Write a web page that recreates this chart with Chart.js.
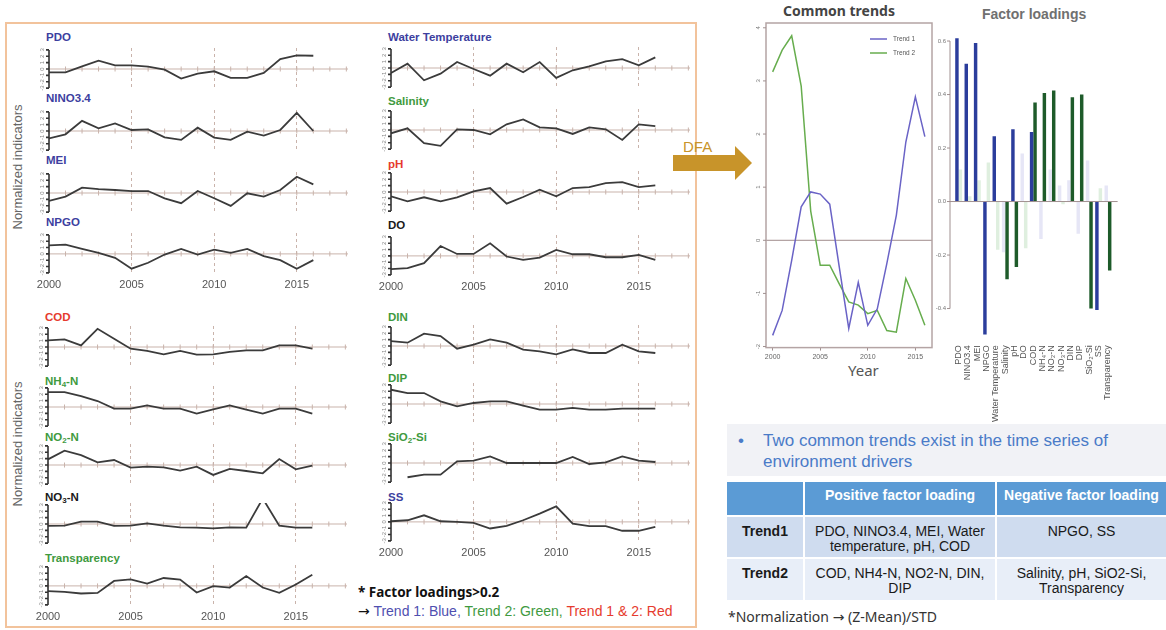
<!DOCTYPE html>
<html><head><meta charset="utf-8">
<script src="https://cdn.jsdelivr.net/npm/chart.js@4.4.1/dist/chart.umd.min.js"></script>
<style>
body{margin:0;width:1166px;height:630px;position:relative;background:#fff;overflow:hidden;font-family:"Liberation Sans",Arial,sans-serif;}
.abs{position:absolute;}
.pt{position:absolute;font-weight:bold;font-size:11.5px;line-height:12px;transform:translateY(-50%);white-space:nowrap;}
.pt sub{font-size:8px;vertical-align:-2px;line-height:0;}
.rot{position:absolute;transform:translate(-50%,-50%) rotate(-90deg);white-space:nowrap;font-size:13px;color:#666;}
.cell{position:absolute;box-sizing:border-box;text-align:center;font-size:14px;line-height:15px;color:#1a1a1a;}
.arr{font-family:"DejaVu Sans";}
</style></head><body>
<div class="abs" style="left:5px;top:22px;width:688px;height:602px;border:2px solid #f2c39c;"></div>
<div class="rot" style="left:17px;top:167px;">Normalized indicators</div>
<div class="rot" style="left:17px;top:444px;">Normalized indicators</div>
<div class="abs" style="left:358px;top:583px;font-family:'Noto Sans';font-weight:bold;font-size:13.5px;line-height:18px;color:#111;">* Factor loadings&gt;0.2</div>
<div class="abs" style="left:358px;top:602px;font-size:14px;line-height:18px;color:#111;white-space:nowrap;"><span class="arr">&rarr;</span> <span style="color:#4f4fb0">Trend 1: Blue,</span> <span style="color:#3f9a3f">Trend 2: Green,</span> <span style="color:#e63b2e">Trend 1 &amp; 2: Red</span></div>

<div class="abs" style="left:683px;top:138px;font-size:15px;line-height:18px;color:#c8942a;">DFA</div>
<svg class="abs" style="left:670px;top:140px;" width="90" height="50"><polygon points="3,15 65,15 65,6 82,23 65,40 65,31 3,31" fill="#c8942a"/></svg>

<div class="abs" style="left:783px;top:2px;font-family:'Noto Sans';font-weight:bold;font-size:14px;line-height:18px;color:#444;">Common trends</div>
<div class="abs" style="left:982px;top:5px;font-weight:bold;font-size:14px;line-height:18px;color:#707070;">Factor loadings</div>
<div class="abs" style="left:848px;top:360px;font-family:'Noto Sans';font-size:15px;line-height:20px;color:#555;">Year</div>

<div class="abs" style="left:727px;top:424px;width:439px;height:52px;background:#f1f2f6;"></div>
<div class="abs" style="left:738px;top:430px;font-size:17px;line-height:21px;color:#4a7bc8;">&bull;</div>
<div class="abs" style="left:763px;top:430px;font-size:17px;line-height:21px;color:#4a7bc8;white-space:nowrap;">Two common trends exist in the time series of<br>environment drivers</div>

<div class="cell" style="left:727px;top:482px;width:76px;height:33px;background:#5b9bd5;"></div>
<div class="cell" style="left:805px;top:482px;width:190px;height:33px;background:#5b9bd5;color:#fff;font-weight:bold;padding-top:6px;">Positive factor loading</div>
<div class="cell" style="left:997px;top:482px;width:169px;height:33px;background:#5b9bd5;color:#fff;font-weight:bold;padding-top:6px;white-space:nowrap;">Negative factor loading</div>
<div class="cell" style="left:727px;top:517px;width:76px;height:40px;background:#cfdcef;font-weight:bold;padding-top:7px;">Trend1</div>
<div class="cell" style="left:805px;top:517px;width:190px;height:40px;background:#cfdcef;padding-top:7px;">PDO, NINO3.4, MEI, Water<br>temperature, pH, COD</div>
<div class="cell" style="left:997px;top:517px;width:169px;height:40px;background:#cfdcef;padding-top:7px;">NPGO, SS</div>
<div class="cell" style="left:727px;top:559px;width:76px;height:41px;background:#e8eef8;font-weight:bold;padding-top:7px;">Trend2</div>
<div class="cell" style="left:805px;top:559px;width:190px;height:41px;background:#e8eef8;padding-top:7px;">COD, NH4-N, NO2-N, DIN,<br>DIP</div>
<div class="cell" style="left:997px;top:559px;width:169px;height:41px;background:#e8eef8;padding-top:7px;">Salinity, pH, SiO2-Si,<br>Transparency</div>
<div class="abs" style="left:728px;top:607px;font-family:'Noto Sans';font-size:14px;line-height:20px;color:#333;white-space:nowrap;">*Normalization <span class="arr">&rarr;</span> (Z-Mean)/STD</div>

<script>
// ---------------- DATA ----------------
const years = [2000,2001,2002,2003,2004,2005,2006,2007,2008,2009,2010,2011,2012,2013,2014,2015,2016];
const yearLabels = [2000,2005,2010,2015];
const panelTicks = [-3,-2,-1,0,1,2,3];

const pdo          = [-0.52,-0.52,0.42,1.3,0.57,0.57,0.36,-0.1,-1.5,-0.73,-0.36,-1.4,-1.4,-0.62,1.56,2.14,2.08];
const nino34       = [-1.15,-0.52,1.6,0.42,1.2,0.16,0.26,-1.0,-1.4,0.52,-1.04,-1.4,-0.1,-0.73,0.16,2.86,0];
const mei          = [-1.25,-0.57,0.83,0.62,0.47,0.31,0.31,-0.83,-1.6,0.31,-0.83,-2.03,-0.05,-0.57,0.47,2.55,1.35];
const npgo         = [1.35,1.46,0.78,0.16,-0.62,-2.34,-1.4,-0.1,0.78,-0.1,0.68,0.16,0.78,-0.36,-0.99,-2.34,-0.99];
const waterTemp    = [-0.78,0.68,-1.93,-0.89,0.94,-0.16,-1.2,0.68,-0.68,0.94,-1.56,-0.36,0.26,1.04,1.4,0.42,1.67];
const salinity     = [-0.52,0.26,-2.08,-2.5,0.1,0,-0.68,0.89,1.67,0.42,0.26,-0.62,0.42,0.1,-1.56,0.89,0.62];
const ph           = [-0.68,-1.46,-0.83,-1.46,-0.83,0.1,0.62,-1.82,-0.78,0.36,-0.68,0.62,0.78,1.4,1.56,0.78,1.04];
const dissolvedO2  = [-2.08,-1.93,-1.15,1.56,0.31,0.31,1.98,-0.1,-0.62,-0.26,0.94,0.26,0.26,-0.21,-0.21,0.16,-0.62];
const cod          = [1.04,1.2,0.26,2.86,1.3,-0.26,-0.62,-1.15,-0.62,-1.2,-1.15,-0.78,-0.52,-0.52,0.26,0.26,-0.26];
const nh4n         = [2.34,2.34,1.72,0.94,-0.26,-0.26,0.26,-0.26,-0.26,-1.04,-0.36,0.26,-0.42,-1.04,-0.26,-0.26,-1.04];
const no2n         = [0.89,2.24,1.56,0.42,0.78,-0.42,-0.26,-0.36,-0.89,-0.26,-1.56,-0.62,-0.94,-1.3,0.94,-0.68,-0.1];
const no3n         = [-0.31,-0.26,0.36,0.36,-0.31,-0.26,0.1,-0.26,-0.52,-0.57,-0.68,-0.52,-0.57,4.0,-0.26,-0.57,-0.57];
const transparency = [-0.83,-0.94,-1.2,-1.1,0.78,1.04,0.36,1.25,0.99,-1.04,-0.05,-0.26,1.56,-0.26,-1.1,0.21,1.77];
const din          = [0.78,0.52,1.93,1.56,-0.42,0.21,1.04,0.52,-0.57,-0.83,-1.3,-0.52,-1.1,-1.1,0.21,-0.83,-1.1];
const dip          = [2.24,1.72,1.72,0.42,-0.36,0.16,0.42,0.42,-0.26,-0.89,-0.89,-0.62,-0.89,-0.89,-0.73,-0.73,-0.73];
const sio2si       = [null,-2.24,-1.82,-1.82,0.26,0.36,1.04,0,0,0,0,0.94,-0.16,0.1,1.04,0.36,0.16];
const ss           = [0.1,0.26,1.04,0.1,0,-0.16,-1.04,-0.62,0.26,1.3,2.45,-0.26,-0.68,-0.68,-1.4,-1.4,-0.78];

const trend1 = [-1.79,-1.32,-0.38,0.63,0.91,0.87,0.68,-0.5,-1.66,-0.79,-1.6,-1.29,-0.44,0.47,1.85,2.7,1.95];
const trend2 = [3.17,3.58,3.85,2.9,0.55,-0.47,-0.47,-0.82,-1.16,-1.22,-1.38,-1.32,-1.7,-1.73,-0.72,-1.13,-1.6];
const trendTicks = [-2,-1,0,1,2,3,4];

const loadingLabels = ['PDO','NINO3.4','MEI','NPGO','Water Temperature','Salinity','pH','DO','COD','NH\u2084-N','NO\u2082-N','NO\u2083-N','DIN','DIP','SiO\u2082-Si','SS','Transparency'];
const loadTrend1 = [0.61,0.515,0.593,-0.497,0.244,-0.19,0.27,0.18,0.26,-0.14,0.12,0.06,0.08,-0.12,0.153,-0.405,0.06];
const loadTrend2 = [0.12,0.02,0.08,0.146,-0.18,-0.29,-0.245,-0.175,0.37,0.406,0.415,-0.01,0.39,0.40,-0.40,0.05,-0.258];
const loadTicks = [-0.4,-0.2,0,0.2,0.4,0.6];
const loadThreshold = 0.2;

// ---------------- STYLE / LAYOUT ----------------
const C_BLUE='#3d3f9f', C_GREEN='#3f9a3f', C_RED='#e63b2e', C_BLACK='#1a1a1a';
const panels = [
  {title:'PDO', vals:pdo, color:C_BLUE, ax:49, zy:69, ty:37, xlab:false},
  {title:'NINO3.4', vals:nino34, color:C_BLUE, ax:49, zy:131, ty:98, xlab:false},
  {title:'MEI', vals:mei, color:C_BLUE, ax:49, zy:193, ty:160, xlab:false},
  {title:'NPGO', vals:npgo, color:C_BLUE, ax:49, zy:254, ty:222, xlab:true},
  {title:'Water Temperature', vals:waterTemp, color:C_BLUE, ax:391, zy:68, ty:37, xlab:false},
  {title:'Salinity', vals:salinity, color:C_GREEN, ax:391, zy:130, ty:101, xlab:false},
  {title:'pH', vals:ph, color:C_RED, ax:391, zy:192, ty:164, xlab:false},
  {title:'DO', vals:dissolvedO2, color:C_BLACK, ax:391, zy:256, ty:225, xlab:true},
  {title:'COD', vals:cod, color:C_RED, ax:48, zy:347, ty:317, xlab:false},
  {title:'NH<sub>4</sub>-N', vals:nh4n, color:C_GREEN, ax:48, zy:407, ty:381, xlab:false},
  {title:'NO<sub>2</sub>-N', vals:no2n, color:C_GREEN, ax:48, zy:465, ty:437, xlab:false},
  {title:'NO<sub>3</sub>-N', vals:no3n, color:C_BLACK, ax:48, zy:524, ty:497, xlab:false},
  {title:'Transparency', vals:transparency, color:C_GREEN, ax:48, zy:586, ty:558, xlab:true},
  {title:'DIN', vals:din, color:C_GREEN, ax:391, zy:346, ty:317, xlab:false},
  {title:'DIP', vals:dip, color:C_GREEN, ax:391, zy:404, ty:378, xlab:false},
  {title:'SiO<sub>2</sub>-Si', vals:sio2si, color:C_GREEN, ax:391, zy:463, ty:437, xlab:false},
  {title:'SS', vals:ss, color:C_BLUE, ax:391, zy:522, ty:497, xlab:true}
];

Chart.defaults.font.family = '"Liberation Sans", Arial, sans-serif';
const yearFmt = v => String(v);

function build(cfgFn, W, H, T){
  const wrap = document.createElement('div'); wrap.className='abs'; document.body.appendChild(wrap);
  function make(w,h){
    const cv=document.createElement('canvas'); cv.width=w; cv.height=h; cv.style.width=w+'px'; cv.style.height=h+'px';
    wrap.appendChild(cv); return new Chart(cv, cfgFn());
  }
  let ch = make(W,H); let ca = ch.chartArea;
  const W2 = Math.round(W + (T.r-T.l) - (ca.right-ca.left));
  const H2 = Math.round(H + (T.b-T.t) - (ca.bottom-ca.top));
  ch.destroy(); wrap.innerHTML='';
  ch = make(W2,H2); ca = ch.chartArea;
  wrap.style.left=(T.l-ca.left)+'px'; wrap.style.top=(T.t-ca.top)+'px';
  return ch;
}
const base = {responsive:false, maintainAspectRatio:false, animation:false, devicePixelRatio:1, events:[]};

// ---- small panel decorations
const panelDeco = {
  id:'panelDeco',
  beforeDatasetsDraw(chart){
    const {ctx, chartArea:ca, scales:{x,y}} = chart;
    const y0=y.getPixelForValue(0);
    ctx.save(); ctx.strokeStyle='#c9b3ab'; ctx.lineWidth=1; ctx.beginPath();
    ctx.moveTo(ca.left,y0); ctx.lineTo(ca.right,y0);
    for(let yr=Math.ceil(x.min); yr<=x.max; yr++){const px=x.getPixelForValue(yr); ctx.moveTo(px,y0-2.5); ctx.lineTo(px,y0+2.5);}
    ctx.stroke(); ctx.restore();
  },
  afterDatasetsDraw(chart){
    const {ctx, chartArea:ca, scales:{y}} = chart;
    const ax=ca.left;
    ctx.save(); ctx.strokeStyle='#333'; ctx.lineWidth=1.6; ctx.beginPath();
    ctx.moveTo(ax,y.getPixelForValue(panelTicks[0])); ctx.lineTo(ax,y.getPixelForValue(panelTicks[panelTicks.length-1]));
    panelTicks.forEach(v=>{const py=y.getPixelForValue(v); ctx.moveTo(ax-3,py); ctx.lineTo(ax,py);});
    ctx.stroke();
    ctx.fillStyle='#888'; ctx.font='6px "Liberation Sans"'; ctx.textAlign='center'; ctx.textBaseline='middle';
    panelTicks.forEach(v=>{const py=y.getPixelForValue(v); ctx.save(); ctx.translate(ax-7,py); ctx.rotate(-Math.PI/2); ctx.fillText(String(v),0,0); ctx.restore();});
    ctx.restore();
  }
};

panels.forEach(p=>{
  const t=document.createElement('div'); t.className='pt'; t.style.left=(p.ax-3)+'px'; t.style.top=p.ty+'px'; t.style.color=p.color; t.innerHTML=p.title; document.body.appendChild(t);
  const cfg=()=>({
    type:'line',
    data:{datasets:[{data:years.map((yr,i)=>({x:yr,y:p.vals[i]})), borderColor:'#3b3b3b', borderWidth:1.8, pointRadius:0, tension:0, fill:false}]},
    plugins:[panelDeco],
    options:Object.assign({},base,{
      layout:{padding:{left:30,right:4,top:2,bottom:2}},
      plugins:{legend:{display:false},tooltip:{enabled:false}},
      scales:{
        x:{type:'linear', min:2000, max:2018.1,
           afterBuildTicks:s=>{s.ticks=yearLabels.map(v=>({value:v}));},
           border:{display:false, dash:[3,3]},
           grid:{drawTicks:false, lineWidth:1, color:c=>(c.tick&&c.tick.value>2000)?'#c9b3ab':'rgba(0,0,0,0)'},
           ticks:{display:p.xlab, autoSkip:false, maxRotation:0, font:{size:11}, color:'#555', padding:4, callback:yearFmt}},
        y:{display:false, min:-3.3, max:3.3}
      }
    })
  });
  build(cfg, 340, p.xlab?70:50, {l:p.ax, r:p.ax+298.7, t:p.zy-21.1, b:p.zy+21.1});
});

// ---- Common trends
const ctDeco = {
  id:'ctDeco',
  beforeDatasetsDraw(chart){
    const {ctx, chartArea:ca, scales:{y}} = chart;
    ctx.save(); ctx.strokeStyle='#a08c8c'; ctx.lineWidth=1;
    const y0=y.getPixelForValue(0); ctx.beginPath(); ctx.moveTo(ca.left,y0); ctx.lineTo(ca.right,y0); ctx.stroke(); ctx.restore();
  },
  afterDatasetsDraw(chart){
    const {ctx, chartArea:ca, scales:{y}, data} = chart;
    ctx.save(); ctx.strokeStyle='#b4a4a4'; ctx.lineWidth=1.5; ctx.strokeRect(ca.left,ca.top,ca.right-ca.left,ca.bottom-ca.top);
    ctx.strokeStyle='#a09090'; ctx.lineWidth=1; ctx.beginPath();
    trendTicks.forEach(v=>{const py=y.getPixelForValue(v); ctx.moveTo(ca.left-3,py); ctx.lineTo(ca.left,py);}); ctx.stroke();
    ctx.fillStyle='#777'; ctx.font='6px "Liberation Sans"'; ctx.textAlign='center'; ctx.textBaseline='middle';
    trendTicks.forEach(v=>{const py=y.getPixelForValue(v); ctx.save(); ctx.translate(ca.left-8,py); ctx.rotate(-Math.PI/2); ctx.fillText(String(v),0,0); ctx.restore();});
    // legend
    ctx.font='6.5px "Liberation Sans"'; ctx.textAlign='left'; ctx.fillStyle='#555';
    data.datasets.forEach((d,i)=>{const ly=ca.top+16+i*14; ctx.strokeStyle=d.borderColor; ctx.lineWidth=1.5; ctx.beginPath(); ctx.moveTo(ca.right-62,ly); ctx.lineTo(ca.right-45,ly); ctx.stroke(); ctx.fillText(d.label, ca.right-39, ly);});
    ctx.restore();
  }
};
build(()=>({
  type:'line',
  data:{datasets:[
    {label:'Trend 1', data:years.map((yr,i)=>({x:yr,y:trend1[i]})), borderColor:'#6a63c6', borderWidth:1.5, pointRadius:0, tension:0},
    {label:'Trend 2', data:years.map((yr,i)=>({x:yr,y:trend2[i]})), borderColor:'#67ad4e', borderWidth:1.5, pointRadius:0, tension:0}
  ]},
  plugins:[ctDeco],
  options:Object.assign({},base,{
    layout:{padding:{left:20,right:4,top:4,bottom:4}},
    plugins:{legend:{display:false},tooltip:{enabled:false}},
    scales:{
      x:{type:'linear', min:1999.3, max:2016.75, afterBuildTicks:s=>{s.ticks=yearLabels.map(v=>({value:v}));},
         border:{display:false}, grid:{drawOnChartArea:false, drawTicks:true, tickLength:3, color:'#a09090'},
         ticks:{font:{size:7}, color:'#666', padding:2, maxRotation:0, autoSkip:false, callback:yearFmt}},
      y:{display:false, min:-2.02, max:4.09}
    }
  })
}), 200, 360, {l:766, r:932, t:23, b:348});

// ---- Factor loadings
const flDeco = {
  id:'flDeco',
  afterDatasetsDraw(chart){
    const {ctx, chartArea:ca, scales:{y}} = chart;
    const ax=ca.left-4;
    ctx.save(); ctx.strokeStyle='#a09090'; ctx.lineWidth=1; ctx.beginPath();
    ctx.moveTo(ax,y.getPixelForValue(loadTicks[0])); ctx.lineTo(ax,y.getPixelForValue(loadTicks[loadTicks.length-1]));
    loadTicks.forEach(v=>{const py=y.getPixelForValue(v); ctx.moveTo(ax-3,py); ctx.lineTo(ax,py);});
    const y0=y.getPixelForValue(0); ctx.moveTo(ax,y0); ctx.lineTo(ca.right+5,y0);
    ctx.stroke();
    ctx.fillStyle='#777'; ctx.font='6px "Liberation Sans"'; ctx.textAlign='right'; ctx.textBaseline='middle';
    loadTicks.forEach(v=>{ctx.fillText(v.toFixed(1), ax-4, y.getPixelForValue(v));});
    ctx.restore();
  }
};
build(()=>({
  type:'bar',
  data:{labels:loadingLabels, datasets:[
    {label:'Trend 1', data:loadTrend1, backgroundColor:loadTrend1.map(v=>Math.abs(v)>loadThreshold?'#2b3d9c':'rgba(140,140,215,0.22)'), borderWidth:0},
    {label:'Trend 2', data:loadTrend2, backgroundColor:loadTrend2.map(v=>Math.abs(v)>loadThreshold?'#1e5b2a':'rgba(110,180,110,0.22)'), borderWidth:0}
  ]},
  plugins:[flDeco],
  options:Object.assign({},base,{
    datasets:{bar:{barPercentage:1, categoryPercentage:0.74}},
    layout:{padding:{left:22,right:8,top:2,bottom:0}},
    plugins:{legend:{display:false},tooltip:{enabled:false}},
    scales:{
      x:{grid:{display:false}, border:{display:false}, ticks:{minRotation:90, maxRotation:90, autoSkip:false, font:{size:9}, color:'#555', padding:2}},
      y:{display:false, min:-0.5, max:0.63}
    }
  })
}), 200, 420, {l:954.3, r:1112.9, t:32.5, b:334.75});
</script>
</body></html>
